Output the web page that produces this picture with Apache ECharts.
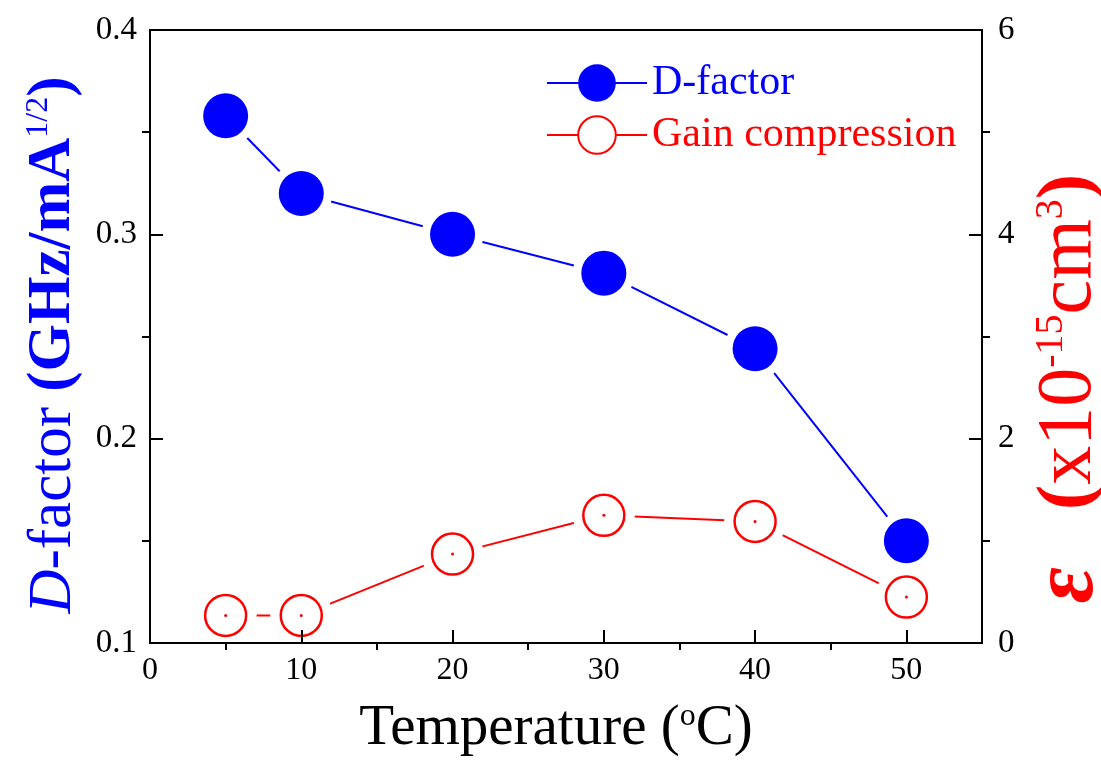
<!DOCTYPE html>
<html>
<head>
<meta charset="utf-8">
<script src="https://cdn.jsdelivr.net/npm/echarts@6/dist/echarts.min.js"></script>
<style>html,body{margin:0;padding:0;background:#fff}#c{width:1101px;height:762px}</style>
</head>
<body>
<div id="c"></div>
<script>
// Data
const temperatures = [5, 10, 20, 30, 40, 50];
const dFactor = [0.358, 0.320, 0.300, 0.281, 0.244, 0.150];
const gainCompression = [0.27, 0.27, 0.87, 1.25, 1.19, 0.45];
const xTicks = [0, 10, 20, 30, 40, 50];
const leftTicks = [0.1, 0.2, 0.3, 0.4];
const rightTicks = [0, 2, 4, 6];
const seriesNames = ['D-factor', 'Gain compression'];

const FONT = 'Liberation Serif';
const BLUE = '#0000ff';
const RED = '#ff0000';

const dPairs = temperatures.map((t, i) => [t, dFactor[i]]);
const gPairs = temperatures.map((t, i) => [t, gainCompression[i]]);

const chart = echarts.init(document.getElementById('c'), null, {renderer: 'canvas'});
const axisLineStyle = {color: '#000', width: 2};
const tickStyle = {color: '#000', width: 2};
// major ticks drawn toward the plot interior
const majorTick = {show: true, inside: false, length: -13, lineStyle: tickStyle};

chart.setOption({
  animation: false,
  backgroundColor: '#fff',
  textStyle: {fontFamily: FONT},
  grid: {left: 150, right: 119, top: 30, bottom: 119, containLabel: false, outerBoundsMode: 'none',
    show: true, borderColor: '#000', borderWidth: 2, backgroundColor: 'transparent'},
  legend: {
    orient: 'vertical', left: 541, top: 57, itemWidth: 100, itemHeight: 47, itemGap: 10,
    textStyle: {fontFamily: FONT, fontSize: 42},
    data: [
      {name: seriesNames[0], itemStyle: {color: BLUE, borderWidth: 0}, textStyle: {color: BLUE, fontFamily: FONT, fontSize: 42}},
      {name: seriesNames[1], itemStyle: {color: '#fff', borderColor: RED, borderWidth: 2}, textStyle: {color: RED, fontFamily: FONT, fontSize: 42}}
    ]
  },
  xAxis: [{
    type: 'value', min: 0, max: 55, interval: 10, position: 'bottom', z: 10,
    axisLine: {show: true, onZero: false, lineStyle: axisLineStyle},
    axisTick: majorTick,
    minorTick: {show: true, splitNumber: 2, length: 7, lineStyle: tickStyle},
    axisLabel: {color: '#000', fontFamily: FONT, fontSize: 32, margin: 12,
      formatter: v => (xTicks.indexOf(v) >= 0 ? String(v) : '')},
    splitLine: {show: false},
    name: '{t|Temperature (}{sup|o}{t|C)}', nameLocation: 'middle', nameGap: 58,
    nameTextStyle: {padding: [0, 20, 0, 0], rich: {
      t: {fontFamily: FONT, fontSize: 57, color: '#000'},
      sup: {fontFamily: FONT, fontSize: 32, color: '#000', verticalAlign: 'top'}
    }}
  }],
  yAxis: [{
    type: 'value', min: 0.1, max: 0.4, interval: 0.1, position: 'left', z: 10,
    axisLine: {show: true, onZero: false, lineStyle: axisLineStyle},
    axisTick: majorTick,
    minorTick: {show: true, splitNumber: 2, length: 8, lineStyle: tickStyle},
    axisLabel: {color: '#000', fontFamily: FONT, fontSize: 33, margin: 13,
      formatter: v => (leftTicks.some(t => Math.abs(t - v) < 1e-9) ? v.toFixed(1) : '')},
    splitLine: {show: false},
    name: '{it|D}{rg|-factor }{bd|(GHz/mA}{sup|1/2}{bd|)}', nameLocation: 'middle', nameGap: 66, nameRotate: 90,
    nameTextStyle: {padding: [0, 17, 0, 0], rich: {
      it: {fontFamily: FONT, fontSize: 61, fontStyle: 'italic', color: BLUE},
      rg: {fontFamily: FONT, fontSize: 61, color: BLUE},
      bd: {fontFamily: FONT, fontSize: 61, fontWeight: 'bold', color: BLUE},
      sup: {fontFamily: FONT, fontSize: 32, color: BLUE, verticalAlign: 'top'}
    }}
  }, {
    type: 'value', min: 0, max: 6, interval: 2, position: 'right', z: 10,
    axisLine: {show: true, onZero: false, lineStyle: axisLineStyle},
    axisTick: majorTick,
    minorTick: {show: true, splitNumber: 2, length: 8, lineStyle: tickStyle},
    axisLabel: {color: '#000', fontFamily: FONT, fontSize: 33, margin: 16,
      formatter: v => (rightTicks.indexOf(v) >= 0 ? String(v) : '')},
    splitLine: {show: false},
    name: '{eps|ε}{bd|   (}{rg|x10}{sup|-15}{cm|cm}{sup|3}{bd|)}', nameLocation: 'middle', nameGap: 29, nameRotate: 90,
    nameTextStyle: {padding: [0, 104, 0, 0], rich: {
      eps: {fontFamily: FONT, fontSize: 88, lineHeight: 76, fontStyle: 'italic', fontWeight: 'bold', color: RED},
      bd: {fontFamily: FONT, fontSize: 76, lineHeight: 76, fontWeight: 'bold', color: RED},
      rg: {fontFamily: FONT, fontSize: 78, lineHeight: 76, color: RED},
      cm: {fontFamily: FONT, fontSize: 78, lineHeight: 76, color: RED},
      sup: {fontFamily: FONT, fontSize: 40, color: RED, verticalAlign: 'top'}
    }}
  }],
  series: [
    {name: seriesNames[0], type: 'line', xAxisIndex: 0, yAxisIndex: 0, data: dPairs,
      symbol: 'circle', symbolSize: 62, itemStyle: {color: '#fff', borderWidth: 0},
      lineStyle: {color: BLUE, width: 2}, z: 2},
    {name: seriesNames[1], type: 'line', xAxisIndex: 0, yAxisIndex: 1, data: gPairs,
      symbol: 'circle', symbolSize: 62, itemStyle: {color: '#fff', borderWidth: 0},
      lineStyle: {color: RED, width: 2}, z: 2},
    {name: 'dMarkers', type: 'scatter', xAxisIndex: 0, yAxisIndex: 0, data: dPairs,
      symbol: 'circle', symbolSize: 45, itemStyle: {color: BLUE, opacity: 1}, z: 3},
    {name: 'gMarkers', type: 'scatter', xAxisIndex: 0, yAxisIndex: 1, data: gPairs,
      symbol: 'circle', symbolSize: 41, itemStyle: {color: '#fff', borderColor: RED, borderWidth: 2.5, opacity: 1}, z: 3},
    {name: 'gDots', type: 'scatter', xAxisIndex: 0, yAxisIndex: 1, data: gPairs,
      symbol: 'circle', symbolSize: 3, itemStyle: {color: RED, opacity: 1}, z: 4}
  ]
});
</script>
</body>
</html>
